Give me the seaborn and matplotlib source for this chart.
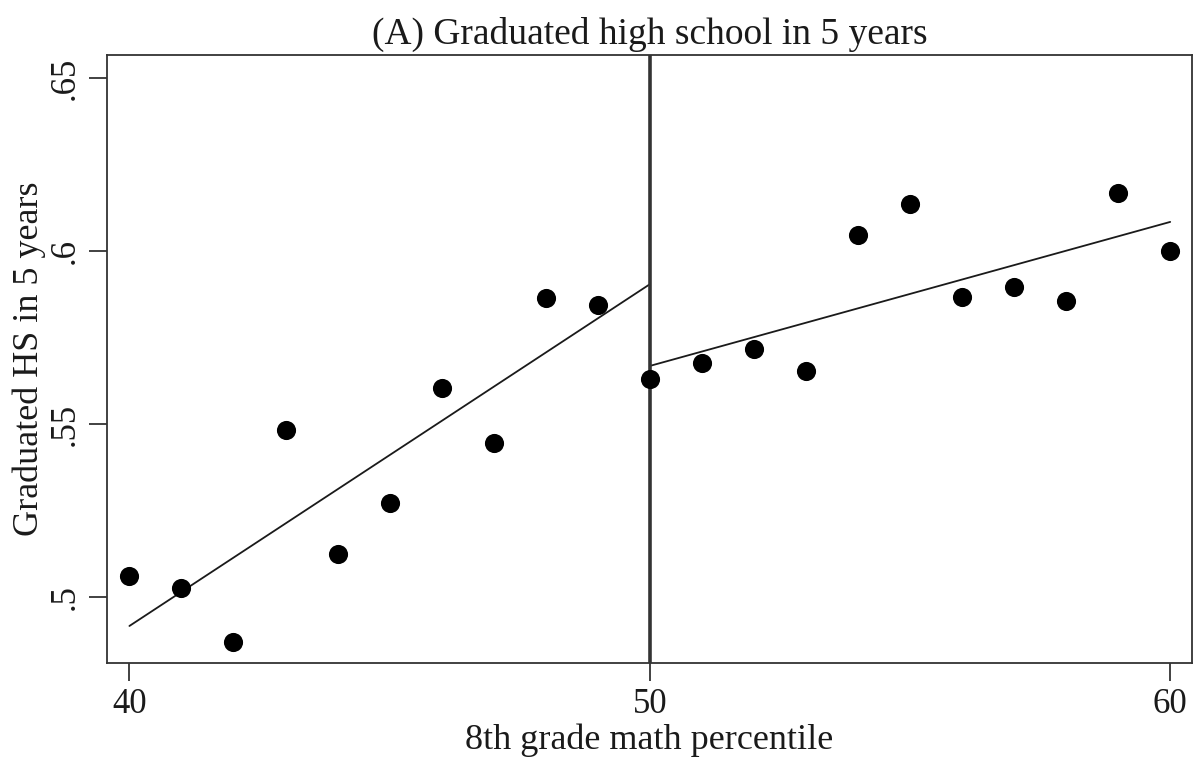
import matplotlib
matplotlib.use("Agg")
import matplotlib.pyplot as plt
import seaborn as sns
import numpy as np
import pandas as pd

# Data
percentile = [40, 41, 42, 43, 44, 45, 46, 47, 48, 49, 50, 51, 52, 53, 54, 55, 56, 57, 58, 59, 60]
grad_rate = [0.506, 0.5026, 0.4871, 0.5483, 0.5126, 0.5273, 0.5603, 0.5445, 0.5865, 0.5845,
             0.5630, 0.5676, 0.5716, 0.5653, 0.6047, 0.6136, 0.5867, 0.5896, 0.5857, 0.6167, 0.6000]
left_fit_x = [40, 50]
left_fit_y = [0.4917, 0.5904]
right_fit_x = [50, 60]
right_fit_y = [0.5668, 0.6084]
cutoff = 50
x_ticks = [40, 50, 60]
y_ticks = [0.50, 0.55, 0.60, 0.65]
y_tick_labels = [".5", ".55", ".6", ".65"]

sns.set_style("white")
plt.rcParams['font.family'] = ['Liberation Serif', 'DejaVu Serif']

df = pd.DataFrame({"x": percentile, "y": grad_rate})

fig = plt.figure(figsize=(11.96, 7.58), dpi=100)
ax = fig.add_axes([0.0895, 0.1253, 0.9072, 0.8021])

sns.scatterplot(data=df, x="x", y="y", ax=ax, s=190, color="black", edgecolor="black", linewidth=0, zorder=3)
sns.lineplot(x=left_fit_x, y=left_fit_y, ax=ax, color="#1a1a1a", linewidth=1.3)
sns.lineplot(x=right_fit_x, y=right_fit_y, ax=ax, color="#1a1a1a", linewidth=1.3)
ax.axvline(cutoff, color="#333333", linewidth=2.6, zorder=2)

ax.set_xlim(39.57, 60.42)
ax.set_ylim(0.481, 0.6566)
ax.set_xticks(x_ticks)
ax.set_xticklabels([str(t) for t in x_ticks])
ax.set_yticks(y_ticks)
ax.set_yticklabels(y_tick_labels, rotation=90, va="center")

for sp in ax.spines.values():
    sp.set_visible(True)
    sp.set_color("#333333")
    sp.set_linewidth(1.3)

ax.tick_params(axis="both", which="major", direction="out", length=13, width=1.3,
               color="#333333", labelsize=25, pad=5, left=True, bottom=True,
               labelcolor="#1a1a1a")

ax.set_xlabel("8th grade math percentile", fontsize=26, labelpad=2, color="#1a1a1a")
ax.set_ylabel("Graduated HS in 5 years", fontsize=26, labelpad=2, color="#1a1a1a")
ax.set_title("(A) Graduated high school in 5 years", fontsize=27, pad=8, color="#1a1a1a")

fig.savefig("out.png", dpi=100)
